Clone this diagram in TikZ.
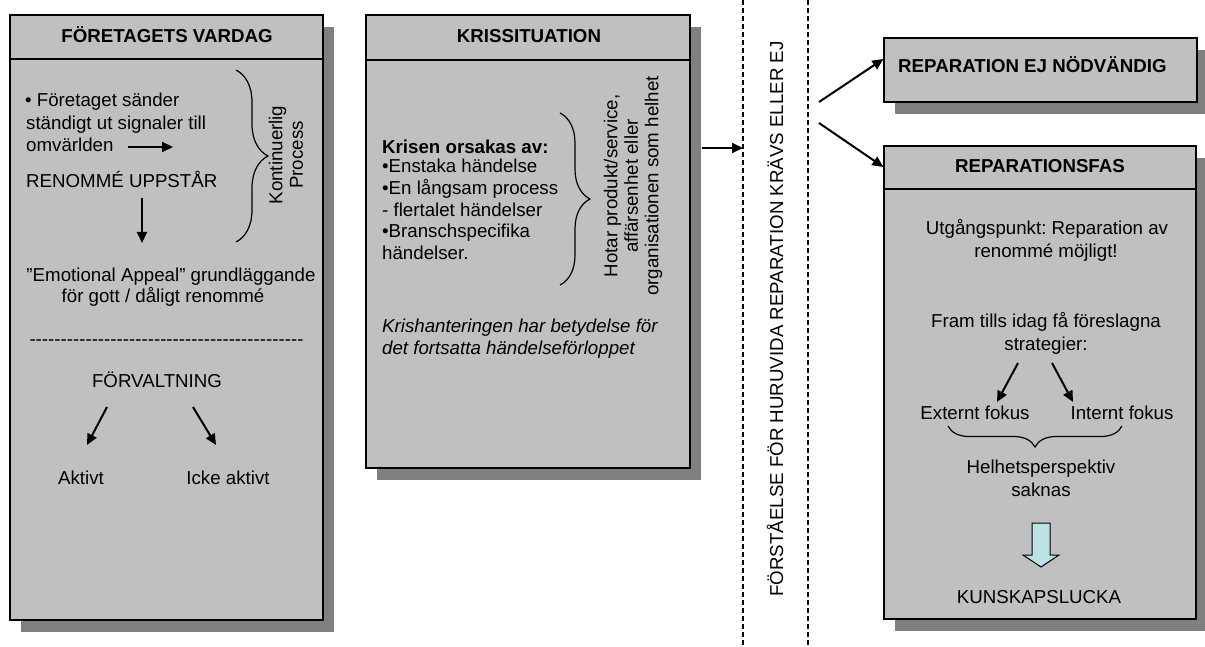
\documentclass[tikz,border=0pt]{standalone}
\usepackage{fontspec}
\setmainfont{Liberation Sans}
\usetikzlibrary{arrows.meta,shadows,decorations.pathreplacing,calc}
\definecolor{boxgray}{RGB}{192,192,192}
\definecolor{shadowgray}{RGB}{128,128,128}
\definecolor{hollowcyan}{RGB}{189,226,230}
\frenchspacing

\begin{document}
\begin{tikzpicture}[x=1pt,y=-1pt,
  panel/.style={draw=black, line width=1.3pt, fill=boxgray, inner sep=0pt,
    drop shadow={shadow xshift=11pt, shadow yshift=-12pt, fill=shadowgray, opacity=1}},
  txt/.style={inner sep=0pt, font=\fontsize{18.7}{22.5}\selectfont},
  head/.style={inner sep=0pt, font=\fontsize{18.7}{22.5}\selectfont\bfseries},
  slanted/.style={inner sep=0pt, font=\fontsize{18.7}{22.5}\selectfont\itshape},
  sidetxt/.style={inner sep=0pt, rotate=90, align=center, font=\fontsize{18.7}{20.5}\selectfont},
  arr/.style={line width=2pt, -{Triangle[length=11pt,width=10pt]}},
  curly/.style={line width=1.2pt, decorate, decoration={brace, amplitude=#1}},
  divider/.style={line width=2pt, dash pattern=on 5pt off 3pt},
  rule/.style={line width=1.3pt},
]
\useasboundingbox (0,0) rectangle (1205,647);
\fill[white] (0,0) rectangle (1205,647);

% ---------------- Företagets vardag ----------------
\node[panel, minimum width=313pt, minimum height=605pt] (b1) at (166.5,317.5) {};
\draw[rule] (b1.west |- 0,59) -- (b1.east |- 0,59);
\node[head, anchor=base] (h1) at (167,43) {FÖRETAGETS VARDAG};

\node[txt, anchor=base west] (sig1) at (25,107) {• Företaget sänder};
\node[txt, anchor=base west] (sig2) at (26,130) {ständigt ut signaler till};
\node[txt, anchor=base west] (sig3) at (26,152) {omvärlden};
\coordinate (sigA) at (128,147);
\coordinate (sigB) at (173,147);
\draw[arr] (sigA) -- (sigB);
\node[txt, anchor=base west] (ren) at (26,188) {RENOMMÉ UPPSTÅR};
\coordinate (renA) at (142,198);
\coordinate (renB) at (142,243);
\draw[arr] (renA) -- (renB);

\draw[curly=32pt] (236,70) -- (236,242);
\node[sidetxt] (kont) at (286,155) {Kontinuerlig\\Process};

\node[txt, anchor=base] (emo1) at (171,281) {”Emotional Appeal” grundläggande};
\node[txt, anchor=base] (emo2) at (163,302) {för gott / dåligt renommé};

\node[txt] (hy) at (166.5,343) {\foreach \k in {1,...,44}{\mbox{-}}};

\node[txt, anchor=base] (forv) at (157,387) {FÖRVALTNING};
\coordinate (fvL) at (107,407);
\coordinate (fvLt) at (87,445);
\coordinate (fvR) at (193,407);
\coordinate (fvRt) at (216,445);
\draw[arr] (fvL) -- (fvLt);
\draw[arr] (fvR) -- (fvRt);
\node[txt, anchor=base] (akt) at (81,484) {Aktivt};
\node[txt, anchor=base] (ickeakt) at (228,484) {Icke aktivt};

% ---------------- Krissituation ----------------
\node[panel, minimum width=324pt, minimum height=453pt] (b2) at (528,241.5) {};
\draw[rule] (b2.west |- 0,60) -- (b2.east |- 0,60);
\node[head, anchor=base] (h2) at (529,43) {KRISSITUATION};

\node[head, anchor=base west] (kr0) at (382,154) {Krisen orsakas av:};
\node[txt, anchor=base west] (kr1) at (382,173) {•Enstaka händelse};
\node[txt, anchor=base west] (kr2) at (382,195) {•En långsam process};
\node[txt, anchor=base west] (kr3) at (382,217) {- flertalet händelser};
\node[txt, anchor=base west] (kr4) at (382,238) {•Branschspecifika};
\node[txt, anchor=base west] (kr5) at (382,260) {händelser.};

\draw[curly=30pt] (560,113) -- (560,285);
\node[sidetxt] (hotar) at (633,186) {Hotar produkt/service,\\affärsenhet eller\\organisationen som helhet};

\node[slanted, anchor=base west] (kh1) at (382,332) {Krishanteringen har betydelse för};
\node[slanted, anchor=base west] (kh2) at (382,354) {det fortsatta händelseförloppet};

% ---------------- Dividers ----------------
\coordinate (d1t) at (743,0);
\coordinate (d1b) at (743,647);
\coordinate (d2t) at (808,0);
\coordinate (d2b) at (808,647);
\draw[divider] (d1t) -- (d1b);
\draw[divider] (d2t) -- (d2b);
\node[txt, rotate=90] (fq) at (775,319) {FÖRSTÅELSE FÖR HURUVIDA REPARATION KRÄVS ELLER EJ};

\coordinate (krOut) at (702,148);
\draw[arr] (krOut) -- (krOut -| d1t);

% ---------------- Reparation ej nödvändig ----------------
\node[panel, minimum width=313pt, minimum height=64pt] (b3) at (1040.5,70) {};
\node[head, anchor=base west] (h3) at (898,73) {REPARATION EJ NÖDVÄNDIG};

% ---------------- Reparationsfas ----------------
\node[panel, minimum width=312pt, minimum height=473pt] (b4) at (1040,382.5) {};
\draw[rule] (b4.west |- 0,189) -- (b4.east |- 0,189);
\node[head, anchor=base] (h4) at (1040,173) {REPARATIONSFAS};

\coordinate (fork1) at (819,102);
\coordinate (fork2) at (819,123);
\draw[arr] (fork1) -- ($(b3.west)+(0,-11)$);
\draw[arr] (fork2) -- (b4.west |- 0,167);

\node[txt, anchor=base] (u1) at (1047,235) {Utgångspunkt: Reparation av};
\node[txt, anchor=base] (u2) at (1046,258) {renommé möjligt!};
\node[txt, anchor=base] (f1) at (1046,327) {Fram tills idag få föreslagna};
\node[txt, anchor=base] (f2) at (1046,350) {strategier:};
\coordinate (stL) at (1018,363);
\coordinate (stLt) at (997,402);
\coordinate (stR) at (1052,363);
\coordinate (stRt) at (1073,402);
\draw[arr] (stL) -- (stLt);
\draw[arr] (stR) -- (stRt);
\node[txt, anchor=base] (ext) at (975,419) {Externt fokus};
\node[txt, anchor=base] (int) at (1122,419) {Internt fokus};
\draw[curly=21pt] (1122,426) -- (948,426);
\node[txt, anchor=base] (hel1) at (1041,473) {Helhetsperspektiv};
\node[txt, anchor=base] (hel2) at (1041,496) {saknas};

\draw[line width=1pt, fill=hollowcyan]
  (1032,523) -- (1050,523) -- (1050,555) -- (1059,555) -- (1041,567)
  -- (1023,555) -- (1032,555) -- cycle;
\node[txt, anchor=base] (kl) at (1039,603) {KUNSKAPSLUCKA};

\end{tikzpicture}
\end{document}
